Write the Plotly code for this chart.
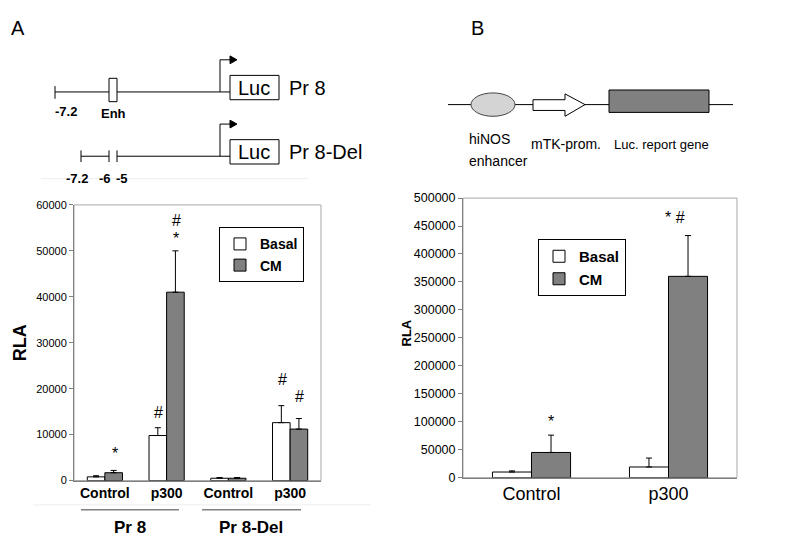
import plotly.graph_objects as go

W, H = 800, 537

# Panel A: luciferase activity, Pr 8 / Pr 8-Del constructs
a_cats = ["Pr8 Control", "Pr8 p300", "Del Control", "Del p300"]
a_ticks = ["Control", "p300", "Control", "p300"]
a_basal = [800, 9800, 500, 12600]
a_basal_err = [250, 1700, 150, 3700]
a_cm = [1700, 41000, 500, 11200]
a_cm_err = [500, 9000, 150, 2300]
a_yticks = [0, 10000, 20000, 30000, 40000, 50000, 60000]

# Panel B: hiNOS enhancer / mTK promoter construct
b_cats = ["Control", "p300"]
b_basal = [10000, 19000]
b_basal_err = [2000, 16000]
b_cm = [45000, 360000]
b_cm_err = [31000, 73000]
b_yticks = [0, 50000, 100000, 150000, 200000, 250000, 300000, 350000, 400000, 450000, 500000]

NARROW = "Liberation Sans Narrow, Arial Narrow, Liberation Sans, sans-serif"
SANS = "Liberation Sans, Arial, sans-serif"


def px(x):
    return x / W


def py(y):
    return 1 - y / H


def pt(x, y):
    return f"{px(x)},{py(y)}"


def err(vals):
    return dict(type="data", array=vals, arrayminus=[0] * len(vals), symmetric=False,
                color="black", thickness=1, width=3)


fig = go.Figure()

fig.add_trace(go.Bar(x=a_cats, y=a_basal, name="Basal", error_y=err(a_basal_err),
                     marker=dict(color="white", line=dict(color="black", width=1)),
                     xaxis="x", yaxis="y", legend="legend"))
fig.add_trace(go.Bar(x=a_cats, y=a_cm, name="CM", error_y=err(a_cm_err),
                     marker=dict(color="#808080", line=dict(color="black", width=1)),
                     xaxis="x", yaxis="y", legend="legend"))
fig.add_trace(go.Bar(x=b_cats, y=b_basal, name="Basal", error_y=err(b_basal_err),
                     marker=dict(color="white", line=dict(color="black", width=1)),
                     xaxis="x2", yaxis="y2", legend="legend2"))
fig.add_trace(go.Bar(x=b_cats, y=b_cm, name="CM", error_y=err(b_cm_err),
                     marker=dict(color="#808080", line=dict(color="black", width=1)),
                     xaxis="x2", yaxis="y2", legend="legend2"))

shapes = []
annotations = []


def line(x0, y0, x1, y1, color="black", width=1):
    shapes.append(dict(type="line", xref="paper", yref="paper", x0=px(x0), y0=py(y0),
                       x1=px(x1), y1=py(y1), line=dict(color=color, width=width)))


def rect(x0, y0, x1, y1, fill="white", color="black"):
    shapes.append(dict(type="rect", xref="paper", yref="paper", x0=px(x0), y0=py(y0),
                       x1=px(x1), y1=py(y1), fillcolor=fill, line=dict(color=color, width=1)))


def path(d, fill=None, color="black"):
    shapes.append(dict(type="path", xref="paper", yref="paper", path=d,
                       fillcolor=fill if fill else "rgba(0,0,0,0)",
                       line=dict(color=color, width=1)))


def text(x, y, s, size=13, family=SANS, bold=False, xanchor="center", angle=0):
    annotations.append(dict(x=px(x), y=py(y), xref="paper", yref="paper", text=s,
                            showarrow=False, xanchor=xanchor, yanchor="middle", textangle=angle,
                            font=dict(family=family, size=size, color="black",
                                      weight="bold" if bold else "normal")))


# frames of the bar plots
for xd, yd in (("x domain", "y domain"), ("x2 domain", "y2 domain")):
    shapes.append(dict(type="rect", xref=xd, yref=yd, x0=0, y0=0, x1=1, y1=1,
                       line=dict(color="#a8a8a8", width=1), layer="below"))

# faint panel separators
line(33, 168, 300, 168, color="#eeeeee")
line(25, 503, 363, 503, color="#eeeeee")

# --- schematic A, Pr 8
line(47, 79, 222, 79)
line(47, 73, 47, 86)
rect(101, 65, 109, 89)
path(f"M{pt(212, 79)} L{pt(212, 46)} L{pt(222, 46)}")
path(f"M{pt(222, 42)} L{pt(229, 46)} L{pt(222, 50)} Z", fill="black")
rect(222, 62, 271, 87)
text(246, 75, "Luc", size=20)
text(279, 75, "Pr 8", size=20, xanchor="left")
text(58, 99, "-7.2", bold=True)
text(105, 101, "Enh", bold=True)

# --- schematic A, Pr 8-Del
line(73, 145, 101, 145)
line(109, 145, 222, 145)
for xt in (73, 101, 109):
    line(xt, 139, xt, 151)
path(f"M{pt(212, 145)} L{pt(212, 112)} L{pt(222, 112)}")
path(f"M{pt(222, 108)} L{pt(229, 112)} L{pt(222, 116)} Z", fill="black")
rect(222, 128, 271, 153)
text(246, 141, "Luc", size=20)
text(279, 141, "Pr 8-Del", size=20, xanchor="left")
text(69, 168, "-7.2", bold=True)
text(97, 168, "-6", bold=True)
text(114, 168, "-5", bold=True)

# --- schematic B
line(440, 92, 725, 92)
shapes.append(dict(type="circle", xref="paper", yref="paper", x0=px(463), y0=py(80),
                   x1=px(507), y1=py(104), fillcolor="#d4d4d4", line=dict(color="#444", width=1)))
path(f"M{pt(525, 87)} L{pt(557, 87)} L{pt(557, 81)} L{pt(577, 92)} L{pt(557, 104)} "
     f"L{pt(557, 98)} L{pt(525, 98)} Z", fill="white")
rect(601, 77, 701, 100, fill="#808080")
text(459, 127, "hiNOS", size=14, family=NARROW, xanchor="left")
text(459, 150, "enhancer", size=14, family=NARROW, xanchor="left")
text(521, 132, "mTK-prom.", size=14, family=NARROW, xanchor="left")
text(604, 133, "Luc. report gene", size=13, family=NARROW, xanchor="left")

# panel letters
text(10, 13, "A", size=20)
text(469, 13, "B", size=20)

# axis titles
text(12, 337, "RLA", size=18, bold=True, angle=-90)
text(398, 327, "RLA", size=13, bold=True, angle=-90)

# group labels under panel A
line(73, 508, 171, 508, color="#808080", width=1.5)
line(194, 508, 293, 508, color="#808080", width=1.5)
text(122, 526, "Pr 8", size=17, bold=True)
text(243, 526, "Pr 8-Del", size=17, bold=True)

# significance marks
for x, y, s in [(107, 450, "*"), (150, 408, "#"), (168, 211, "#"), (168, 229, "*"),
                (274, 374, "#"), (291, 392, "#"), (543, 417, "*"), (667, 208, "* #")]:
    text(x, y, s, size=16, family=SANS)

axis_common = dict(showgrid=False, zeroline=False, showline=True, linecolor="#808080",
                   linewidth=1)

fig.update_layout(
    width=W, height=H,
    margin=dict(l=0, r=0, t=0, b=0),
    paper_bgcolor="white", plot_bgcolor="white",
    barmode="group", bargap=0.43, bargroupgap=0,
    xaxis=dict(domain=[px(66), px(313)], anchor="y", ticks="", tickvals=a_cats,
               ticktext=a_ticks, categoryorder="array", categoryarray=a_cats,
               tickfont=dict(family=SANS, size=14, color="black", weight="bold"), **axis_common),
    yaxis=dict(domain=[py(478), py(195)], anchor="x", range=[0, 60000], tickvals=a_yticks,
               tickformat="d", ticks="outside", ticklen=4, tickcolor="#808080",
               tickfont=dict(family=NARROW, size=11, color="black"), **axis_common),
    xaxis2=dict(domain=[px(455), px(729)], anchor="y2", ticks="",
                tickfont=dict(family=NARROW, size=18, color="black"), **axis_common),
    yaxis2=dict(domain=[py(475), py(188)], anchor="x2", range=[0, 500000], tickvals=b_yticks,
                tickformat="d", ticks="outside", ticklen=4, tickcolor="#808080",
                tickfont=dict(family=NARROW, size=12.5, color="black"), **axis_common),
    legend=dict(x=px(211), y=py(218), xanchor="left", yanchor="top", bgcolor="white",
                bordercolor="black", borderwidth=1, itemwidth=30, tracegroupgap=0,
                font=dict(family=NARROW, size=14, color="black", weight="bold")),
    legend2=dict(x=px(530), y=py(230), xanchor="left", yanchor="top", bgcolor="white",
                 bordercolor="black", borderwidth=1, itemwidth=30, tracegroupgap=0,
                 font=dict(family=NARROW, size=15, color="black", weight="bold")),
    shapes=shapes,
    annotations=annotations,
)

fig.write_html("out.html")
